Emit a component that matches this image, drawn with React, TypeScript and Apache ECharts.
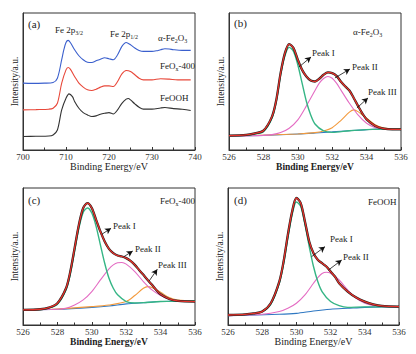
import React, { useEffect, useRef } from "react";
import * as echarts from "echarts";

const FONT = "'Liberation Serif', 'Times New Roman', serif";

// ---------- Panel (a): Fe 2p spectra ----------
const aTicks = [700, 710, 720, 730, 740];
const aFe2O3: number[][] = [[700,48.8],[702,48.6],[705,48.8],[707,49.3],[708,52.4],[709,65.9],[709.5,73.2],[710,78.5],[710.5,80.0],[711,78.5],[712,73.2],[713,68.8],[714,65.9],[715,64.1],[716,63.9],[717,65.1],[718,66.3],[719,67.3],[720,66.6],[721,65.9],[722,69.5],[723,75.6],[724,78.5],[725,76.8],[726,74.4],[727,72.7],[728,72.0],[730,72.0],[731,72.4],[732,73.2],[733,73.9],[734,73.7],[735,73.2],[737,72.7],[739,72.7]];
const aFeOx400: number[][] = [[700,29.3],[703,29.5],[706,29.8],[707,30.5],[708,34.1],[709,48.8],[710,58.5],[710.5,60.2],[711,59.0],[712,53.7],[713,48.8],[714,45.9],[715,43.9],[716,43.4],[717,44.4],[718,45.9],[719,46.8],[720,46.8],[721,46.3],[722,50.0],[723,55.6],[724,58.0],[725,57.3],[726,54.9],[727,52.4],[728,51.2],[730,51.2],[732,52.0],[734,51.7],[736,51.2],[739,51.2]];
const aFeOOH: number[][] = [[700,9.8],[703,10.0],[706,10.2],[707,11.0],[708,14.6],[709,29.3],[710,37.8],[710.7,41.0],[711.5,39.0],[712,35.4],[713,30.5],[714,27.3],[715,25.6],[716,24.4],[717,24.9],[718,26.1],[719,26.8],[720,27.3],[721,26.3],[722,29.3],[723,34.1],[724,37.1],[724.5,37.6],[725,36.6],[726,33.7],[727,31.2],[728,29.8],[730,29.8],[732,30.7],[733,31.0],[735,30.2],[737,29.8],[739,28.8]];

// ---------- Panel (b): O 1s alpha-Fe2O3 ----------
const bEnvelope: number[][] = [[526,10.5],[527,11.0],[527.5,12.2],[528,14.1],[528.5,24.4],[528.75,36.6],[529,56.1],[529.25,70.7],[529.5,77.3],[529.75,74.4],[530,65.9],[530.25,58.5],[530.5,53.7],[530.75,50.7],[531,50.0],[531.25,52.0],[531.5,54.9],[531.75,56.6],[532,56.1],[532.25,54.1],[532.5,50.0],[532.75,46.5],[533,43.4],[533.25,38.0],[533.5,32.2],[533.75,26.8],[534,22.4],[534.5,17.6],[535,15.6],[535.5,15.1],[536,15.1]];
const bPeakI: number[][] = [[526,10.5],[527,10.7],[527.5,11.7],[528,13.4],[528.5,23.2],[528.75,35.4],[529,54.9],[529.25,68.8],[529.5,74.9],[529.75,72.0],[530,62.2],[530.25,48.8],[530.5,35.4],[530.75,25.6],[531,19.0],[531.5,13.9],[532,12.9],[533,14.1],[534,14.9],[536,15.4]];
const bPeakII: number[][] = [[526,10.2],[528,10.7],[528.5,11.2],[529,12.7],[529.5,15.9],[530,22.0],[530.5,32.2],[531,43.4],[531.25,48.8],[531.5,52.2],[531.75,53.7],[532,52.4],[532.25,48.8],[532.5,43.9],[533,34.1],[533.5,25.6],[534,19.5],[534.5,16.3],[535,15.4],[536,15.1]];
const bPeakIII: number[][] = [[526,10.2],[530,11.7],[531,12.7],[531.5,13.9],[532,16.3],[532.5,21.5],[533,27.6],[533.25,29.3],[533.5,28.0],[534,23.2],[534.5,18.5],[535,16.1],[536,15.4]];
const bBaseline: number[][] = [[526,10.2],[528,10.7],[530,11.7],[531,12.4],[532,13.2],[533,14.1],[534,14.9],[535,15.4],[536,15.4]];

// ---------- Panel (c): O 1s FeOx-400 ----------
const cEnvelope: number[][] = [[526,11.0],[527,11.5],[527.5,12.7],[528,15.9],[528.5,26.8],[528.75,39.0],[529,56.1],[529.25,73.2],[529.5,85.4],[529.75,89.0],[530,85.4],[530.25,76.8],[530.5,68.3],[530.75,61.0],[531,55.6],[531.25,52.4],[531.5,50.7],[531.75,50.0],[532,48.8],[532.25,46.8],[532.5,43.9],[532.75,40.2],[533,36.6],[533.25,32.9],[533.5,29.3],[533.75,25.6],[534,22.4],[534.5,19.0],[535,17.6],[536,17.1]];
const cPeakI: number[][] = [[526,11.0],[527,11.2],[527.5,12.4],[528,15.1],[528.5,25.6],[528.75,37.1],[529,53.7],[529.25,70.7],[529.5,82.2],[529.75,85.4],[530,81.7],[530.25,72.0],[530.5,58.5],[530.75,45.1],[531,34.1],[531.25,26.8],[531.5,22.0],[532,17.1],[532.5,16.1],[533,16.3],[534,17.1],[536,17.6]];
const cPeakII: number[][] = [[526,11.0],[528,11.5],[528.5,12.2],[529,14.6],[529.5,18.3],[530,24.4],[530.5,32.9],[531,41.0],[531.25,43.9],[531.5,45.4],[531.75,45.6],[532,44.4],[532.5,39.0],[533,31.7],[533.5,25.6],[534,21.5],[534.5,19.0],[535,17.8],[536,17.1]];
const cPeakIII: number[][] = [[526,11.0],[528,11.7],[530,13.4],[531,14.6],[532,17.1],[532.5,21.5],[533,26.8],[533.25,28.0],[533.5,27.3],[534,23.9],[534.5,20.0],[535,18.3],[536,17.6]];
const cBaseline: number[][] = [[526,11.0],[528,11.5],[530,12.9],[531,13.9],[532,15.4],[533,16.3],[534,17.1],[535,17.3],[536,17.6]];

// ---------- Panel (d): O 1s FeOOH ----------
const dEnvelope: number[][] = [[526,7.3],[527,7.8],[527.5,8.5],[528,9.8],[528.5,15.9],[529,31.7],[529.25,46.3],[529.5,65.9],[529.75,82.9],[530,92.7],[530.25,89.0],[530.5,75.6],[530.75,61.0],[531,52.4],[531.25,47.6],[531.5,45.1],[531.75,42.7],[532,39.0],[532.25,35.4],[532.5,30.5],[533,24.4],[533.5,20.0],[534,17.1],[534.5,15.1],[535,13.9],[536,13.4]];
const dPeakI: number[][] = [[526,7.3],[527,7.6],[527.5,8.3],[528,9.8],[528.5,15.1],[529,30.5],[529.25,44.4],[529.5,63.4],[529.75,80.5],[530,89.8],[530.25,86.6],[530.5,73.2],[530.75,57.3],[531,42.7],[531.25,31.7],[531.5,24.4],[532,17.1],[532.5,14.1],[533,12.9],[534,13.2],[536,13.2]];
const dPeakII: number[][] = [[526,6.8],[528,7.8],[529,9.8],[529.5,12.2],[530,15.9],[530.5,22.0],[531,30.5],[531.25,34.6],[531.5,37.6],[531.75,38.5],[532,37.8],[532.5,32.9],[533,25.6],[533.5,19.5],[534,15.9],[534.5,14.1],[535,13.4],[536,13.2]];
const dBaseline: number[][] = [[526,6.8],[529,7.8],[530,8.5],[531,10.2],[532,11.5],[533,12.2],[534,12.9],[535,13.2],[536,13.2]];

// ---------- Annotation arrows (data coords: start on curve, end near label) ----------
const bArrows = [[[530.07,60.6],[530.77,67.9]],[[532.16,52.6],[533.03,59.1]],[[533.44,30.7],[534.08,38.0]]];
const cArrows = [[[530.58,66.2],[531.12,70.6]],[[531.87,49.9],[532.38,54.0]],[[533.33,32.1],[533.81,40.7]]];
const dArrows = [[[530.89,49.9],[531.67,57.2]],[[531.87,40.1],[532.65,47.4]]];

const C = {
  envelope: "#e5322b",
  raw: "#1c1c1c",
  p1: "#35b585",
  p2: "#e46cc3",
  p3: "#f39a3c",
  base: "#2f78c2",
  aBlue: "#3a5fcd",
  aRed: "#e8483a",
  aBlack: "#333333",
};

function xAxis(gridIndex: number, min: number, max: number, interval: number, bold: boolean) {
  return {
    type: "value", gridIndex, min, max, interval,
    name: "Binding Energy/eV", nameLocation: "middle", nameGap: 9,
    nameTextStyle: { fontFamily: FONT, fontSize: bold ? 9.5 : 10, fontWeight: bold ? "bold" : "normal", color: "#222" },
    axisLine: { show: true, onZero: false, lineStyle: { color: "#333", width: 1 } },
    axisTick: { show: true, inside: true, length: 3, lineStyle: { color: "#333" } },
    minorTick: { show: true, splitNumber: 2, length: 2.5, lineStyle: { color: "#333" } },
    axisLabel: { fontFamily: FONT, fontSize: 9, color: "#333", margin: 2 },
    splitLine: { show: false },
  };
}

function yAxis(gridIndex: number) {
  return {
    type: "value", gridIndex, min: 0, max: 100,
    name: "Intensity/a.u.", nameLocation: "middle", nameGap: 3, nameRotate: 90,
    nameTextStyle: { fontFamily: FONT, fontSize: 9.5, color: "#222" },
    axisLine: { show: true, lineStyle: { color: "#333", width: 1 } },
    axisTick: { show: false }, axisLabel: { show: false }, splitLine: { show: false },
  };
}

function line(idx: number, data: number[][], color: string, width: number, extra: any = {}) {
  return {
    type: "line", xAxisIndex: idx, yAxisIndex: idx, data, showSymbol: false, symbol: "none",
    smooth: 0.3, lineStyle: { color, width }, itemStyle: { color }, silent: true, ...extra,
  };
}

function arrows(list: number[][][]) {
  return {
    markLine: {
      silent: true, symbol: ["none", "arrow"], symbolSize: [5, 6], animation: false,
      lineStyle: { color: "#111", width: 0.8, type: "solid" }, label: { show: false },
      data: list.map((a) => [{ coord: a[0] }, { coord: a[1] }]),
    },
  };
}

const rich = {
  n: { fontFamily: FONT, fontSize: 9, fill: "#222", verticalAlign: "middle", lineHeight: 11 },
  s: { fontFamily: FONT, fontSize: 6, fill: "#222", verticalAlign: "bottom", lineHeight: 11 },
  p: { fontFamily: FONT, fontSize: 11, fill: "#222", verticalAlign: "middle", lineHeight: 12 },
};

function txt(x: number, y: number, text: string) {
  return { type: "text", x, y, silent: true, style: { text, rich, verticalAlign: "middle", align: "left" } };
}

export default function App() {
  const ref = useRef<HTMLDivElement>(null);
  useEffect(() => {
    const chart = echarts.init(ref.current!, undefined, { renderer: "svg" });
    const grids = [
      { left: 23, top: 13, width: 172, height: 137 },
      { left: 229, top: 13, width: 172, height: 137 },
      { left: 23, top: 188, width: 172, height: 137 },
      { left: 228, top: 188, width: 171, height: 137 },
    ].map((g) => ({ ...g, show: true, borderColor: "#333", borderWidth: 1, backgroundColor: "transparent" }));

    chart.setOption({
      animation: false,
      backgroundColor: "#fff",
      grid: grids,
      xAxis: [
        xAxis(0, aTicks[0], aTicks[aTicks.length - 1], 10, false),
        xAxis(1, 526, 536, 2, true),
        xAxis(2, 526, 536, 2, true),
        xAxis(3, 526, 536, 2, false),
      ],
      yAxis: [yAxis(0), yAxis(1), yAxis(2), yAxis(3)],
      series: [
        line(0, aFeOOH, C.aBlack, 1.1),
        line(0, aFeOx400, C.aRed, 1.1),
        line(0, aFe2O3, C.aBlue, 1.1),

        line(1, bBaseline, C.base, 1.1),
        line(1, bPeakIII, C.p3, 1.1),
        line(1, bPeakII, C.p2, 1.1),
        line(1, bPeakI, C.p1, 1.4),
        line(1, bEnvelope, C.raw, 2.3),
        line(1, bEnvelope, C.envelope, 1.3, arrows(bArrows)),

        line(2, cBaseline, C.base, 1.1),
        line(2, cPeakIII, C.p3, 1.1),
        line(2, cPeakII, C.p2, 1.1),
        line(2, cPeakI, C.p1, 1.4),
        line(2, cEnvelope, C.raw, 2.3),
        line(2, cEnvelope, C.envelope, 1.3, arrows(cArrows)),

        line(3, dBaseline, C.base, 1.1),
        line(3, dPeakII, C.p2, 1.1),
        line(3, dPeakI, C.p1, 1.4),
        line(3, dEnvelope, C.raw, 2.3),
        line(3, dEnvelope, C.envelope, 1.3, arrows(dArrows)),
      ],
      graphic: [
        txt(28, 24, "{p|(a)}"),
        txt(55, 30, "{n|Fe 2p}{s|3/2}"),
        txt(110, 34, "{n|Fe 2p}{s|1/2}"),
        txt(158, 38, "{n|α-Fe}{s|2}{n|O}{s|3}"),
        txt(160, 66, "{n|FeO}{s|x}{n|-400}"),
        txt(160, 98, "{n|FeOOH}"),

        txt(234, 23, "{p|(b)}"),
        txt(353, 32, "{n|α-Fe}{s|2}{n|O}{s|3}"),
        txt(312, 53, "{n|Peak I}"),
        txt(352, 67, "{n|Peak II}"),
        txt(368, 92, "{n|Peak III}"),

        txt(28, 200, "{p|(c)}"),
        txt(160, 201, "{n|FeO}{s|x}{n|-400}"),
        txt(113, 226, "{n|Peak I}"),
        txt(135, 249, "{n|Peak II}"),
        txt(158, 265, "{n|Peak III}"),

        txt(234, 200, "{p|(d)}"),
        txt(368, 202, "{n|FeOOH}"),
        txt(330, 239, "{n|Peak I}"),
        txt(343, 257, "{n|Peak II}"),
      ],
    });
    return () => chart.dispose();
  }, []);
  return <div ref={ref} style={{ position: "absolute", left: 0, top: 0, width: 416, height: 354 }} />;
}
